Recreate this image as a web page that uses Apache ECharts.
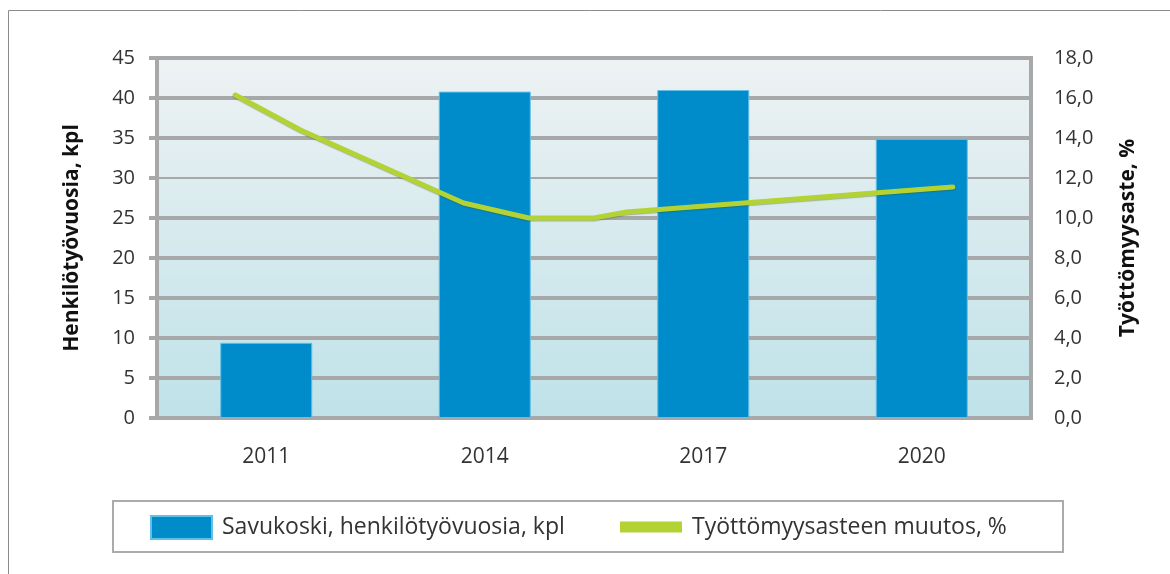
<!DOCTYPE html>
<html>
<head>
<meta charset="utf-8">
<script src="https://cdn.jsdelivr.net/npm/echarts@6/dist/echarts.min.js"></script>
<style>
  html, body { margin: 0; padding: 0; background: #fff; }
  #chart { width: 1170px; height: 574px; }
</style>
</head>
<body>
<div id="chart"></div>
<script>
// vuodet ja pylväät
var years = ['2011', '2014', '2017', '2020'];
var henkilotyovuodet = [9.4, 40.8, 41.0, 34.9];

// työttömyysasteen käyrä (oma tiheämpi askel, piilotettu akseli)
var lineSteps = [0, 2, 7, 9, 11, 12, 22];
var tyottomyys = [16.15, 14.4, 10.75, 10.0, 10.0, 10.3, 11.55];

var leftTicks = { min: 0, max: 45, interval: 5 };
var rightTicks = { min: 0, max: 18, interval: 2 };

var barName = 'Savukoski, henkilötyövuosia, kpl';
var lineName = 'Työttömyysasteen muutos, %';

var grey = '#a6a8aa';
var textFont = 'Open Sans';
var legendFont = "'Open Sans'";

var linePoints = [];
for (var i = 0; i < lineSteps.length; i++) {
    linePoints.push([lineSteps[i], tyottomyys[i]]);
}

// 30-viiva on ohuempi kuin muut
var leftColors = [];
var rightColors = [];
for (var k = 0; k <= 9; k++) {
    leftColors.push(k === 6 ? 'rgba(0,0,0,0)' : grey);
    rightColors.push(k === 6 ? grey : 'rgba(0,0,0,0)');
}

var myChart = echarts.init(document.getElementById('chart'));
var option = {
    animation: false,
    graphic: [
        {
            type: 'rect',
            shape: { x: 8.5, y: 10.5, width: 1200, height: 600 },
            style: { fill: 'none', stroke: '#8c8c8c', lineWidth: 1 },
            z: -10
        },
        {
            type: 'rect',
            shape: { x: 113, y: 501, width: 950, height: 51 },
            style: { fill: '#fff', stroke: '#a9abad', lineWidth: 2 },
            z: -5
        }
    ],
    grid: {
        left: 157,
        top: 58,
        right: 139,
        bottom: 156,
        show: true,
        borderWidth: 4,
        borderColor: grey,
        backgroundColor: new echarts.graphic.LinearGradient(0, 0, 0, 1, [
            { offset: 0, color: '#eef2f3' },
            { offset: 1, color: '#bee2e8' }
        ])
    },
    legend: [
        {
            data: [barName],
            left: 150,
            top: 515,
            padding: 0,
            itemWidth: 61,
            itemHeight: 23,
            icon: 'rect',
            textStyle: { fontFamily: legendFont, fontSize: 23, color: '#333', lineHeight: 24, padding: [0, 0, 0, 5] }
        },
        {
            data: [lineName],
            left: 620,
            top: 515,
            padding: 0,
            itemWidth: 62,
            itemHeight: 11,
            icon: 'rect',
            textStyle: { fontFamily: legendFont, fontSize: 23, color: '#333', lineHeight: 24, padding: [0, 0, 0, 5] }
        }
    ],
    xAxis: [
        {
            type: 'category',
            data: years,
            axisTick: { show: false },
            axisLine: { lineStyle: { color: grey, width: 4 } },
            axisLabel: { fontFamily: textFont, fontSize: 21, color: '#333', margin: 29 }
        },
        {
            type: 'value',
            min: -2.4,
            max: 24.4,
            show: false,
            splitLine: { show: false }
        }
    ],
    yAxis: [
        {
            type: 'value',
            min: leftTicks.min,
            max: leftTicks.max,
            interval: leftTicks.interval,
            name: 'Henkilötyövuosia, kpl',
            nameLocation: 'middle',
            nameRotate: 90,
            nameGap: 74,
            nameTextStyle: { fontFamily: textFont, fontSize: 21, fontWeight: 'bold', color: '#111' },
            axisLine: { show: true, onZero: false, lineStyle: { color: grey, width: 4 } },
            axisTick: { show: true, length: 8, lineStyle: { color: grey, width: 4 } },
            axisLabel: { fontFamily: textFont, fontSize: 20, color: '#333', margin: 22 },
            splitLine: { show: true, lineStyle: { color: leftColors, width: 4 } }
        },
        {
            type: 'value',
            min: rightTicks.min,
            max: rightTicks.max,
            interval: rightTicks.interval,
            name: 'Työttömyysaste, %',
            nameLocation: 'middle',
            nameRotate: 90,
            nameGap: 87,
            nameTextStyle: { fontFamily: textFont, fontSize: 21, fontWeight: 'bold', color: '#111' },
            axisLine: { show: false, onZero: false },
            axisTick: { show: false },
            axisLabel: {
                fontFamily: textFont,
                fontSize: 20,
                color: '#333',
                margin: 23,
                formatter: function (val) {
                    return val.toFixed(1).replace('.', ',');
                }
            },
            splitLine: { show: true, lineStyle: { color: rightColors, width: 2 } }
        }
    ],
    series: [
        {
            name: barName,
            type: 'bar',
            xAxisIndex: 0,
            yAxisIndex: 0,
            data: henkilotyovuodet,
            barWidth: 92,
            itemStyle: { color: '#008bca', borderColor: '#62c0e8', borderWidth: 1 },
            z: 3
        },
        {
            name: lineName,
            type: 'line',
            xAxisIndex: 1,
            yAxisIndex: 1,
            data: linePoints,
            symbol: 'none',
            itemStyle: { color: '#b3d335' },
            lineStyle: {
                color: '#b3d335',
                width: 5,
                cap: 'round',
                join: 'round',
                shadowColor: 'rgba(60,80,0,0.35)',
                shadowBlur: 1,
                shadowOffsetY: 1
            },
            z: 4
        }
    ]
};
myChart.setOption(option);
</script>
</body>
</html>
